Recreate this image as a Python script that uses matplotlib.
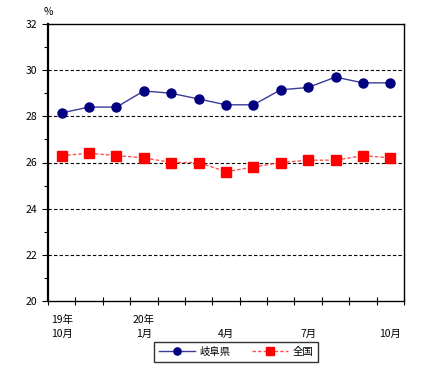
import matplotlib
matplotlib.use("Agg")
import matplotlib.pyplot as plt
from matplotlib.ticker import MultipleLocator

plt.rcParams['font.family'] = ['Noto Sans CJK JP', 'DejaVu Sans']

# monthly values, Oct H19 .. Oct H20
months = ['19年\n10月', '', '', '20年\n1月', '', '', '\n4月', '', '', '\n7月', '', '', '\n10月']
gifu = [28.15, 28.4, 28.4, 29.1, 29.0, 28.75, 28.5, 28.5, 29.15, 29.25, 29.7, 29.45, 29.45]
zenkoku = [26.3, 26.4, 26.3, 26.2, 26.0, 26.0, 25.6, 25.8, 26.0, 26.1, 26.1, 26.3, 26.2]

fig = plt.figure(figsize=(4.3, 3.79), dpi=100)
ax = fig.add_axes([48/430, 1 - 301/379, (404-48)/430, (301-24)/379])

x = list(range(len(gifu)))
ax.plot(x, gifu, color='#3a3a98', lw=1, marker='o', ms=6.5,
        mfc='#000080', mec='#000080', label='岐阜県')
ax.plot(x, zenkoku, color='#ff5050', lw=1, ls=(0, (2.5, 1.5)), marker='s', ms=6.5,
        mfc='#ff0000', mec='#ff0000', label='全国')

ax.set_xlim(-0.5, len(gifu) - 0.5)
ax.set_ylim(20, 32)
ax.yaxis.set_major_locator(MultipleLocator(2))
ax.yaxis.set_minor_locator(MultipleLocator(1))
for v in [22, 24, 26, 28, 30]:
    ax.axhline(v, color='black', lw=0.8, ls=(0, (3, 2)), zorder=0)

ax.set_xticks([i - 0.5 for i in range(len(gifu) + 1)])
ax.set_xticklabels([])
ax.set_xticks(x, minor=True)
ax.set_xticklabels(months, minor=True, fontsize=7.5, linespacing=1.5)
ax.tick_params(axis='x', which='major', direction='inout', length=6, width=0.8)
ax.tick_params(axis='x', which='minor', length=0, pad=10)
ax.tick_params(axis='y', which='both', direction='out', length=4, width=0.8, labelsize=7.5)
ax.tick_params(axis='y', which='minor', length=3)

for s in ax.spines.values():
    s.set_linewidth(1.0)
ax.spines['left'].set_linewidth(1.6)

ax.text(0, 1.025, '%', transform=ax.transAxes, fontsize=7.5, ha='center', va='bottom')

fig.legend(loc='lower center', bbox_to_anchor=(236/430, 12/379), ncol=2, fontsize=7.5,
           frameon=True, fancybox=False, edgecolor='black', handlelength=3.5,
           markerscale=0.8, columnspacing=2.0, borderpad=0.45, handletextpad=0.4)

fig.savefig('out.png', dpi=100)
